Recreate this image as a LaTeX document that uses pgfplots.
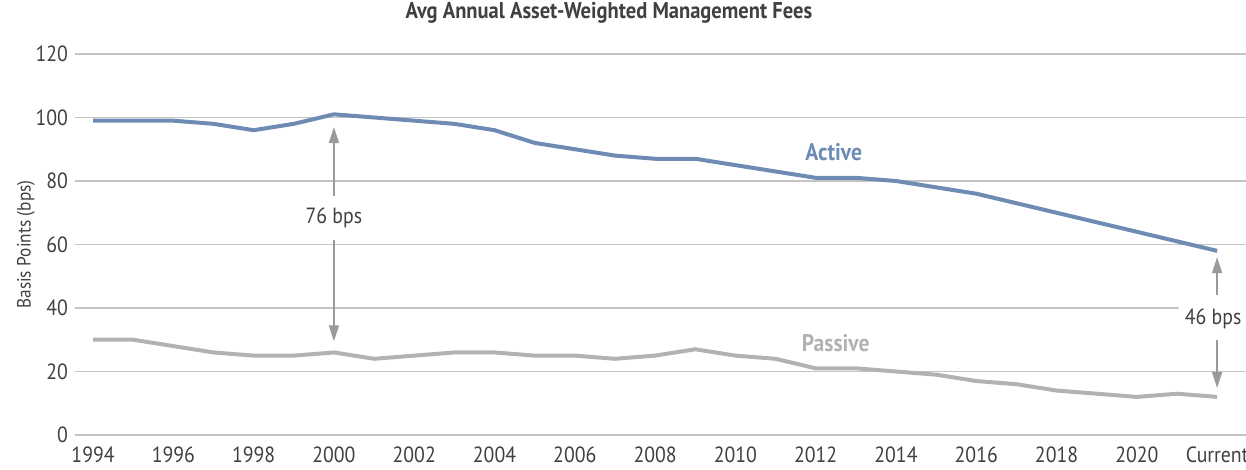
\documentclass[border=0pt]{standalone}
\usepackage{fontspec}
\setmainfont{PT Sans}[FakeStretch=0.9]
\usepackage{pgfplots}
\pgfplotsset{compat=1.18}
\usetikzlibrary{arrows.meta}
\definecolor{activeBlue}{HTML}{6E8BB4}
\definecolor{passiveGray}{HTML}{B2B2B2}
\definecolor{gridGray}{HTML}{C4C4C4}
\definecolor{arrowGray}{HTML}{9A9A9A}
\definecolor{txtGray}{HTML}{404040}

\pgfplotstableread{
year active passive
1994 99 30
1995 99 30
1996 99 28
1997 98 26
1998 96 25
1999 98 25
2000 101 26
2001 100 24
2002 99 25
2003 98 26
2004 96 26
2005 92 25
2006 90 25
2007 88 24
2008 87 25
2009 87 27
2010 85 25
2011 83 24
2012 81 21
2013 81 21
2014 80 20
2015 78 19
2016 76 17
2017 73 16
2018 70 14
2019 67 13
2020 64 12
2021 61 13
2022 58 12
}\fees

\begin{document}
\begin{tikzpicture}
\begin{axis}[
    scale only axis,
    width=585.5pt, height=190.5pt,
    xmin=1993.55, xmax=2022.72,
    ymin=0, ymax=120,
    xtick={1994,1996,...,2022},
    xticklabels={1994,1996,1998,2000,2002,2004,2006,2008,2010,2012,2014,2016,2018,2020,Current},
    ytick={0,20,...,120},
    ymajorgrids,
    grid style={gridGray, line width=0.8pt},
    axis line style={draw=none},
    major tick length=0pt,
    tick label style={font=\fontsize{11}{12}\selectfont, text=txtGray},
    xticklabel style={yshift=-2.5pt},
    /pgf/number format/assume math mode=true,
    /pgf/number format/1000 sep={},
    ylabel={Basis Points (bps)},
    ylabel style={font=\fontsize{9.6}{11}\selectfont, text=txtGray, yshift=-6.5pt},
    title={\bfseries Avg Annual Asset-Weighted Management Fees},
    title style={font=\fontsize{11.4}{13}\selectfont, text=txtGray, at={(axis description cs:0.456,1)}, anchor=center, yshift=14.5pt},
    clip=false,
]
\addplot[activeBlue, line width=2pt] table[x=year, y=active] {\fees};
\addplot[passiveGray, line width=2pt] table[x=year, y=passive] {\fees};

\draw[arrowGray, line width=0.8pt, -{Triangle[length=8pt,width=5pt]}] (axis cs:2000,75.3) -- (axis cs:2000,97);
\draw[arrowGray, line width=0.8pt, -{Triangle[length=8pt,width=5pt]}] (axis cs:2000,61.4) -- (axis cs:2000,29.5);
\node[font=\fontsize{11}{12}\selectfont, text=txtGray] at (axis cs:2000,68.3) {76 bps};

\draw[arrowGray, line width=0.8pt, -{Triangle[length=8pt,width=5pt]}] (axis cs:2022,44) -- (axis cs:2022,56);
\draw[arrowGray, line width=0.8pt, -{Triangle[length=8pt,width=5pt]}] (axis cs:2022,30) -- (axis cs:2022,14.8);
\node[fill=white, inner sep=3pt, font=\fontsize{11}{12}\selectfont, text=txtGray] at (axis cs:2021.9,36.6) {46 bps};

\node[font=\bfseries\fontsize{12}{13}\selectfont, text=activeBlue] at (axis cs:2012.45,89) {Active};
\node[font=\bfseries\fontsize{12}{13}\selectfont, text=passiveGray] at (axis cs:2012.5,29) {Passive};
\end{axis}
\pgfresetboundingbox
\path (-37.5pt,-17.5pt) rectangle (585.5pt,217.5pt);
\end{tikzpicture}
\end{document}
